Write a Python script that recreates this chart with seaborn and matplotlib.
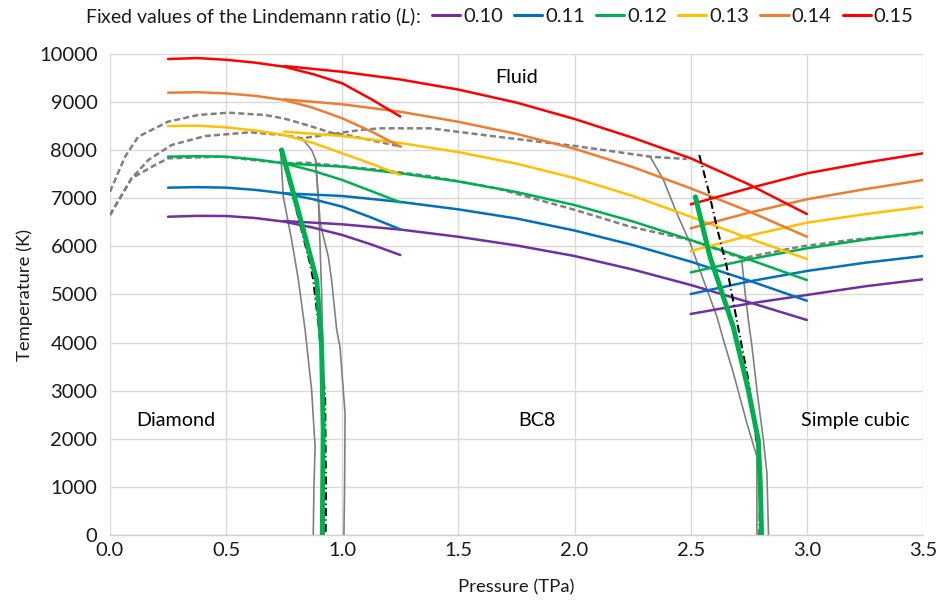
import matplotlib
matplotlib.use("Agg")
import matplotlib.pyplot as plt
import seaborn as sns

# ---- Lindemann-ratio melting curves -------------------------------------
ratios = ["0.10", "0.11", "0.12", "0.13", "0.14", "0.15"]
colors = ["#7030A0", "#0070C0", "#00B050", "#FFC000", "#ED7D31", "#FF0000"]

# diamond branch
p_diamond = [0.25, 0.375, 0.5, 0.625, 0.75, 0.875, 1.0, 1.125, 1.25]
t_diamond = {
    "0.10": [6617, 6635, 6632, 6590, 6514, 6390, 6237, 6040, 5821],
    "0.11": [7221, 7232, 7221, 7175, 7104, 6980, 6826, 6600, 6354],
    "0.12": [7866, 7875, 7866, 7810, 7727, 7570, 7380, 7150, 6916],
    "0.13": [8503, 8510, 8475, 8410, 8316, 8150, 7935, 7720, 7484],
    "0.14": [9196, 9205, 9182, 9130, 9044, 8880, 8663, 8390, 8073],
    "0.15": [9896, 9915, 9880, 9820, 9735, 9580, 9390, 9060, 8700],
}

# BC8 branch
p_bc8 = [0.75, 1.0, 1.25, 1.5, 1.75, 2.0, 2.25, 2.5, 2.75, 3.0]
t_bc8 = {
    "0.10": [6528, 6459, 6350, 6200, 6020, 5800, 5520, 5198, 4840, 4470],
    "0.11": [7104, 7048, 6925, 6770, 6580, 6330, 6030, 5683, 5290, 4871],
    "0.12": [7727, 7657, 7520, 7350, 7130, 6860, 6520, 6133, 5730, 5301],
    "0.13": [8385, 8295, 8150, 7960, 7720, 7420, 7050, 6618, 6170, 5738],
    "0.14": [9058, 8954, 8800, 8590, 8340, 8030, 7650, 7207, 6730, 6202],
    "0.15": [9750, 9630, 9470, 9260, 8990, 8649, 8260, 7831, 7290, 6674],
}

# simple-cubic branch
p_sc = [2.5, 2.75, 3.0, 3.25, 3.5]
t_sc = {
    "0.10": [4595, 4810, 4990, 5170, 5316],
    "0.11": [5010, 5270, 5489, 5660, 5800],
    "0.12": [5460, 5730, 5960, 6140, 6293],
    "0.13": [5904, 6220, 6493, 6670, 6825],
    "0.14": [6376, 6700, 6979, 7190, 7380],
    "0.15": [6875, 7207, 7519, 7740, 7935],
}

# ---- two-phase simulation melting lines (dashed grey) -------------------
melt_upper_p = [0.0, 0.065, 0.122, 0.25, 0.38, 0.51, 0.667, 0.746, 0.847, 0.962, 1.02, 1.14, 1.256]
melt_upper_t = [7138, 7866, 8282, 8593, 8732, 8780, 8732, 8663, 8524, 8350, 8316, 8190, 8073]

melt_mid_p = [0.0, 0.093, 0.165, 0.265, 0.41, 0.603, 0.746, 0.826, 0.976, 1.077, 1.163,
              1.378, 1.665, 2.003, 2.325, 2.483]
melt_mid_t = [6653, 7415, 7796, 8108, 8295, 8372, 8316, 8247, 8350, 8420, 8455,
              8455, 8282, 8087, 7866, 7817]

melt_low_p = [0.0, 0.093, 0.194, 0.25, 0.48, 0.75, 0.847, 1.163, 1.378, 1.665, 2.003,
              2.239, 2.498, 2.72, 2.97, 3.187, 3.507]
melt_low_t = [6653, 7415, 7692, 7831, 7866, 7727, 7741, 7589, 7460, 7207, 6757,
              6410, 6133, 5752, 5994, 6133, 6272]

# ---- solid-solid phase boundaries (grey) --------------------------------
dia_bc8_a_p = [0.735, 0.746, 0.782, 0.811, 0.84, 0.868, 0.883, 0.878, 0.875]
dia_bc8_a_t = [7950, 7034, 6133, 5301, 4262, 3015, 1836, 1000, 0]
dia_bc8_b_p = [0.826, 0.868, 0.885, 0.897, 0.905, 0.912, 0.92, 0.922]
dia_bc8_b_t = [8247, 8004, 7800, 6965, 5925, 4886, 3222, 0]
dia_bc8_c_p = [0.885, 0.905, 0.94, 0.954, 0.976, 0.99, 1.012, 1.01, 1.007]
dia_bc8_c_t = [7800, 6480, 5786, 5301, 4262, 3915, 2530, 1000, 0]

bc8_sc_a_p = [2.325, 2.383, 2.44, 2.498, 2.555, 2.613, 2.641, 2.684, 2.742, 2.785, 2.785]
bc8_sc_a_t = [7866, 7380, 6688, 6064, 5301, 4538, 4054, 3361, 2322, 1628, 0]
bc8_sc_b_p = [2.72, 2.735, 2.75, 2.763, 2.785, 2.813, 2.828, 2.835]
bc8_sc_b_t = [5700, 5000, 4400, 3950, 3015, 1975, 1282, 0]

# ---- fitted phase boundaries --------------------------------------------
fit_dia_p = [0.739, 0.825, 0.89, 0.911, 0.918, 0.914]
fit_dia_t = [8004, 6480, 5301, 3915, 2183, 0]
fit_sc_p = [2.52, 2.583, 2.683, 2.748, 2.791, 2.80, 2.805]
fit_sc_t = [7030, 5786, 4331, 3015, 1975, 1000, 0]

alt_dia_p = [0.732, 0.79, 0.861, 0.875, 0.897, 0.915, 0.926, 0.93, 0.928]
alt_dia_t = [8030, 7000, 5648, 5301, 4401, 3500, 2875, 800, 0]
alt_sc_p = [2.537, 2.576, 2.612, 2.655, 2.698, 2.748, 2.8, 2.796]
alt_sc_t = [7900, 7173, 6410, 5578, 4470, 3222, 1351, 0]

# ---- phase labels --------------------------------------------------------
phase_names = ["Fluid", "Diamond", "BC8", "Simple cubic"]
phase_p = [1.75, 0.282, 1.838, 3.21]
phase_t = [9510, 2390, 2390, 2390]

# ---- styling -------------------------------------------------------------
sns.set_style("white")
plt.rcParams["font.family"] = ["Lato", "DejaVu Sans"]
plt.rcParams["mathtext.fontset"] = "custom"
plt.rcParams["mathtext.rm"] = "Lato"
plt.rcParams["mathtext.it"] = "Lato:italic"
FS_TICK = 14.5
FS_LAB = 13.3
TXT = "#1a1a1a"

fig = plt.figure(figsize=(9.48, 6.02), dpi=100)
ax = fig.add_axes([0.11603, 0.11130, 0.85759, 0.79900])

GREY = "#808080"


def curve(px, ty, **kw):
    sns.lineplot(x=px, y=ty, sort=False, estimator=None, ax=ax, **kw)


# dashed simulation lines
for px, ty in [(melt_upper_p, melt_upper_t), (melt_mid_p, melt_mid_t), (melt_low_p, melt_low_t)]:
    curve(px, ty, color=GREY, lw=1.8, linestyle=(0, (2.4, 1.3)), zorder=2)

# solid-solid boundaries
for px, ty in [(dia_bc8_a_p, dia_bc8_a_t), (dia_bc8_b_p, dia_bc8_b_t), (dia_bc8_c_p, dia_bc8_c_t),
               (bc8_sc_a_p, bc8_sc_a_t), (bc8_sc_b_p, bc8_sc_b_t)]:
    curve(px, ty, color=GREY, lw=1.2, zorder=2)

# Lindemann curves
handles = []
for r, c in zip(ratios, colors):
    curve(p_diamond, t_diamond[r], color=c, lw=1.8, zorder=3)
    curve(p_bc8, t_bc8[r], color=c, lw=1.8, zorder=3)
    curve(p_sc, t_sc[r], color=c, lw=1.8, zorder=3)
    handles.append(plt.Line2D([], [], color=c, lw=2.2))

# dash-dot boundaries and thick fitted boundaries
for px, ty in [(alt_dia_p, alt_dia_t), (alt_sc_p, alt_sc_t)]:
    curve(px, ty, color="black", lw=1.5, linestyle=(0, (3.8, 1.6, 0.6, 1.6)), zorder=4)
for px, ty in [(fit_dia_p, fit_dia_t), (fit_sc_p, fit_sc_t)]:
    curve(px, ty, color="#00B050", lw=3.6, zorder=5, solid_capstyle="round")

for name, px, ty in zip(phase_names, phase_p, phase_t):
    ax.text(px, ty, name, ha="center", va="center", fontsize=14.2, color="black", zorder=6)

# axes
ax.set_xlim(0, 3.5)
ax.set_ylim(0, 10000)
ax.set_xticks([0.0, 0.5, 1.0, 1.5, 2.0, 2.5, 3.0, 3.5])
ax.set_xticklabels([f"{v:.1f}" for v in ax.get_xticks()])
ax.set_yticks(range(0, 10001, 1000))
ax.grid(True, color="#d9d9d9", lw=1.0, zorder=0)
ax.set_axisbelow(True)
for s in ["top", "right", "left"]:
    ax.spines[s].set_visible(False)
ax.spines["bottom"].set_color("#d0d0d0")
ax.spines["bottom"].set_linewidth(1.0)
ax.tick_params(axis="both", length=0, labelsize=FS_TICK, labelcolor=TXT)
ax.tick_params(axis="y", pad=9)
ax.tick_params(axis="x", pad=5)
ax.set_xlabel("Pressure (TPa)", fontsize=FS_LAB, color=TXT, labelpad=15)
ax.set_ylabel("Temperature (K)", fontsize=FS_LAB, color=TXT, labelpad=4)

# legend row
fig.text(0.0895, 0.972, r"Fixed values of the Lindemann ratio ($L$):",
         fontsize=14.0, color=TXT, ha="left", va="center")
fig.legend(handles, ratios, loc="center left", bbox_to_anchor=(0.4556, 0.972),
           ncol=6, frameon=False, fontsize=FS_TICK, handlelength=1.4, handletextpad=0.15,
           columnspacing=0.55, borderpad=0, borderaxespad=0, labelcolor=TXT)

fig.savefig("out.png", dpi=100)
